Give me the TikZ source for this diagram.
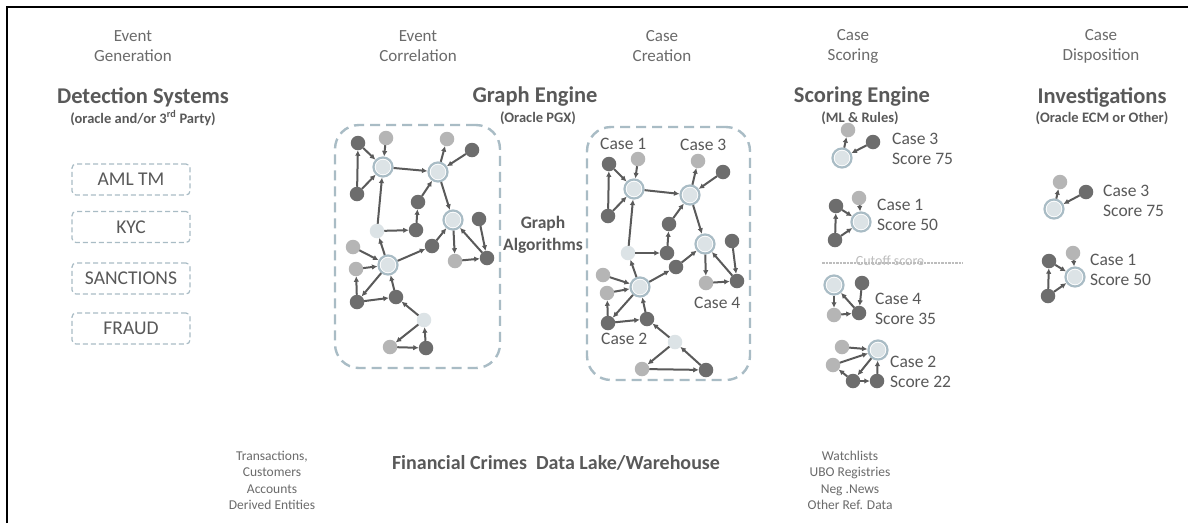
\documentclass[tikz,border=0pt]{standalone}
\usepackage{fontspec}
\setmainfont{Carlito}
\usetikzlibrary{arrows.meta}
\definecolor{txt}{HTML}{595959}
\definecolor{hdr}{HTML}{6B6B6B}
\definecolor{ring}{HTML}{A9BCC5}
\definecolor{dk}{HTML}{6D6D6D}
\definecolor{lgc}{HTML}{B5B5B5}
\definecolor{vl}{HTML}{DCE3E6}
\definecolor{edgec}{HTML}{5A5A5A}
\definecolor{cutc}{HTML}{BDBDBD}
\tikzset{
  dn/.style={circle,fill=dk,inner sep=0pt,minimum size=14.5pt,outer sep=0pt},
  ln/.style={circle,fill=lgc,inner sep=0pt,minimum size=14.5pt,outer sep=0pt},
  vn/.style={circle,fill=vl,inner sep=0pt,minimum size=14.5pt,outer sep=0pt},
  hub/.style={circle,draw=ring,line width=2.2pt,fill=white,inner sep=0pt,minimum size=19pt,
    path picture={\fill[vl] (path picture bounding box.center) circle (7.3pt);}},
  edge/.style={draw=edgec,line width=2pt,-{Latex[length=5.5pt,width=5.5pt]}},
  hdrtxt/.style={text=hdr,align=center,font=\fontsize{17}{20}\selectfont},
  ttl/.style={text=txt,align=center,font=\bfseries\fontsize{22.5}{26}\selectfont},
  subttl/.style={text=txt,align=center,font=\bfseries\fontsize{14.5}{17}\selectfont},
  detbox/.style={draw=ring,line width=1.2pt,dash pattern=on 5pt off 3pt,rounded corners=4pt,
    minimum width=118pt,minimum height=31pt,text=txt,font=\fontsize{19.5}{22}\selectfont},
  bigbox/.style={draw=ring,line width=2.4pt,dash pattern=on 10pt off 6pt,rounded corners=24pt},
  caselbl/.style={text=txt,align=left,anchor=west,inner sep=0pt,font=\fontsize{17.5}{20}\selectfont},
  smalltxt/.style={text=hdr,align=center,font=\fontsize{13.5}{16.5}\selectfont},
}
\newcommand{\grapharrows}[1]{%
  \foreach \a/\b in {E/A,A/H1,B/H1,E/H1,H1/H2,H2/C,D/H2,F/H2,I/F,G/H1,G/I,H2/H3,H3/N,N/O,O/H3,J/O,L/H3,H4/L,H4/G,K/H4,M/H4,P/M,H4/P,P/Q,Q/H4,R/Q,R/S,S/T,T/R}
    {\draw[edge] (#1\a) -- (#1\b);}}
\begin{document}
\begin{tikzpicture}[x=1pt,y=-1pt]
\useasboundingbox (0,0) rectangle (1188,523);
\fill[white] (0,0) rectangle (1188,523);
% frame
\coordinate (frBL) at (7,523);
\coordinate (frTL) at (7,7);
\coordinate (frTR) at (1188,7);
\draw[black,line width=2pt] (frBL) -- (frTL) -- (frTR);

% headers
\node[hdrtxt] (h1) at (133,46) {Event\\Generation};
\node[hdrtxt] (h2) at (418,46) {Event\\Correlation};
\node[hdrtxt] (h3) at (662,46) {Case\\Creation};
\node[hdrtxt] (h4) at (853,46) {Case\\Scoring};
\node[hdrtxt] (h5) at (1101,46) {Case\\Disposition};

% titles
\node[ttl] (t1) at (143,97) {Detection Systems};
\node[subttl] (s1) at (143,118) {(oracle and/or 3\textsuperscript{rd} Party)};
\node[ttl] (t2) at (535,97) {Graph Engine};
\node[subttl] (s2) at (538,118) {(Oracle PGX)};
\node[ttl] (t3) at (862,97) {Scoring Engine};
\node[subttl] (s3) at (860,118) {(ML \& Rules)};
\node[ttl] (t4) at (1102,97) {Investigations};
\node[subttl] (s4) at (1102,118) {(Oracle ECM or Other)};

% detection boxes
\node[detbox] (aml) at (131,179.5) {AML TM};
\node[detbox] (kyc) at (131,227) {KYC};
\node[detbox] (sanc) at (131,278.5) {SANCTIONS};
\node[detbox] (fraud) at (131,328.5) {FRAUD};

% big dashed boxes
\node[bigbox,minimum width=165pt,minimum height=243pt] (engbox) at (417.5,246.5) {};
\node[bigbox,minimum width=163pt,minimum height=253pt] (casebox) at (668.5,253.5) {};

\node[text=txt,align=center,font=\bfseries\fontsize{17.5}{22}\selectfont] (galg) at (543,235) {Graph\\Algorithms};

% ---- graph engine graph
\node[dn] (gA) at (358,143) {};
\node[ln] (gB) at (386,138) {};
\node[hub] (gH1) at (383,167) {};
\node[ln] (gC) at (447,139) {};
\node[dn] (gD) at (472,150) {};
\node[hub] (gH2) at (438,172) {};
\node[dn] (gE) at (357,194) {};
\node[dn] (gF) at (418,202) {};
\node[vn] (gG) at (377,231) {};
\node[dn] (gI) at (416,230) {};
\node[hub] (gH3) at (453,220) {};
\node[dn] (gJ) at (479,219) {};
\node[ln] (gK) at (353,247) {};
\node[dn] (gL) at (432,246) {};
\node[hub] (gH4) at (388,265) {};
\node[ln] (gM) at (356,269) {};
\node[ln] (gN) at (455,261) {};
\node[dn] (gO) at (487,258) {};
\node[dn] (gP) at (357,302) {};
\node[dn] (gQ) at (396,297) {};
\node[vn] (gR) at (424,320) {};
\node[ln] (gS) at (390,347) {};
\node[dn] (gT) at (426,348) {};
\grapharrows{g}

% ---- case creation graph
\node[dn] (cA) at (609,164) {};
\node[ln] (cB) at (638,159) {};
\node[hub] (cH1) at (634,189) {};
\node[ln] (cC) at (698,161) {};
\node[dn] (cD) at (723,172) {};
\node[hub] (cH2) at (690,195) {};
\node[dn] (cE) at (608,216) {};
\node[dn] (cF) at (669,224) {};
\node[vn] (cG) at (628,253) {};
\node[dn] (cI) at (667,253) {};
\node[hub] (cH3) at (705,244) {};
\node[dn] (cJ) at (732,241) {};
\node[ln] (cK) at (603,275) {};
\node[dn] (cL) at (676,267) {};
\node[hub] (cH4) at (640,287) {};
\node[ln] (cM) at (607,293) {};
\node[ln] (cN) at (706,283) {};
\node[dn] (cO) at (737,281) {};
\node[dn] (cP) at (608,323) {};
\node[dn] (cQ) at (647,319) {};
\node[vn] (cR) at (675,342) {};
\node[ln] (cS) at (642,369) {};
\node[dn] (cT) at (706,370) {};
\grapharrows{c}

\node[caselbl] (cl1) at (600,144) {Case 1};
\node[caselbl] (cl3) at (680,145) {Case 3};
\node[caselbl] (cl4) at (694,303) {Case 4};
\node[caselbl] (cl2) at (601,339) {Case 2};

% ---- scoring engine clusters
% case 3
\node[hub] (s3h) at (842,158) {};
\node[ln] (s3l) at (848,130) {};
\node[dn] (s3d) at (873,142) {};
\draw[edge] (s3h) -- (s3l);
\draw[edge] (s3d) -- (s3h);
\node[caselbl] (s3t) at (892,148.5) {Case 3\\Score 75};
% case 1
\node[dn] (s1a) at (836,206) {};
\node[ln] (s1b) at (859,198) {};
\node[hub] (s1h) at (861,222) {};
\node[dn] (s1e) at (835,240) {};
\draw[edge] (s1e) -- (s1a);
\draw[edge] (s1a) -- (s1h);
\draw[edge] (s1e) -- (s1h);
\draw[edge] (s1b) -- (s1h);
\node[caselbl] (s1t) at (877,214.5) {Case 1\\Score 50};
% cutoff
\coordinate (cutL) at (822,263);
\coordinate (cutR) at (963,263);
\draw[cutc,line width=1.4pt,dash pattern=on 2.5pt off 1pt] (cutL) -- (cutR);
\node[text=cutc,font=\fontsize{14}{16}\selectfont] (cuttxt) at (890,261) {Cutoff score};
% case 4
\node[hub] (s4h) at (834,285) {};
\node[dn] (s4j) at (862,283) {};
\node[ln] (s4n) at (834,315) {};
\node[dn] (s4o) at (859,313) {};
\draw[edge] (s4h) -- (s4n);
\draw[edge] (s4n) -- (s4o);
\draw[edge] (s4j) -- (s4o);
\draw[edge] (s4o) -- (s4h);
\node[caselbl] (s4t) at (875,308.5) {Case 4\\Score 35};
% case 2
\node[ln] (s2k) at (842,347) {};
\node[hub] (s2h) at (878,350) {};
\node[ln] (s2m) at (833,365) {};
\node[dn] (s2p) at (853,381) {};
\node[dn] (s2q) at (877,381) {};
\draw[edge] (s2k) -- (s2h);
\draw[edge] (s2m) -- (s2h);
\draw[edge] (s2p) -- (s2m);
\draw[edge] (s2h) -- (s2p);
\draw[edge] (s2p) -- (s2q);
\draw[edge] (s2q) -- (s2h);
\node[caselbl] (s2t) at (890,372) {Case 2\\Score 22};

% ---- investigations
\node[hub] (i3h) at (1054,209) {};
\node[ln] (i3l) at (1060,182) {};
\node[dn] (i3d) at (1086,192) {};
\draw[edge] (i3h) -- (i3l);
\draw[edge] (i3d) -- (i3h);
\node[caselbl] (i3t) at (1103,201) {Case 3\\Score 75};
\node[dn] (i1a) at (1049,261) {};
\node[ln] (i1b) at (1073,253) {};
\node[hub] (i1h) at (1075,277) {};
\node[dn] (i1e) at (1048,296) {};
\draw[edge] (i1e) -- (i1a);
\draw[edge] (i1a) -- (i1h);
\draw[edge] (i1e) -- (i1h);
\draw[edge] (i1b) -- (i1h);
\node[caselbl] (i1t) at (1090,269.5) {Case 1\\Score 50};

% ---- bottom
\node[smalltxt] (b1) at (272,480.5) {Transactions,\\Customers\\Accounts\\Derived Entities};
\node[text=txt,font=\bfseries\fontsize{20}{24}\selectfont] (b2) at (556,463) {Financial Crimes\ \ Data Lake/Warehouse};
\node[smalltxt] (b3) at (850,480.5) {Watchlists\\UBO Registries\\Neg .News\\Other Ref. Data};
\end{tikzpicture}
\end{document}
